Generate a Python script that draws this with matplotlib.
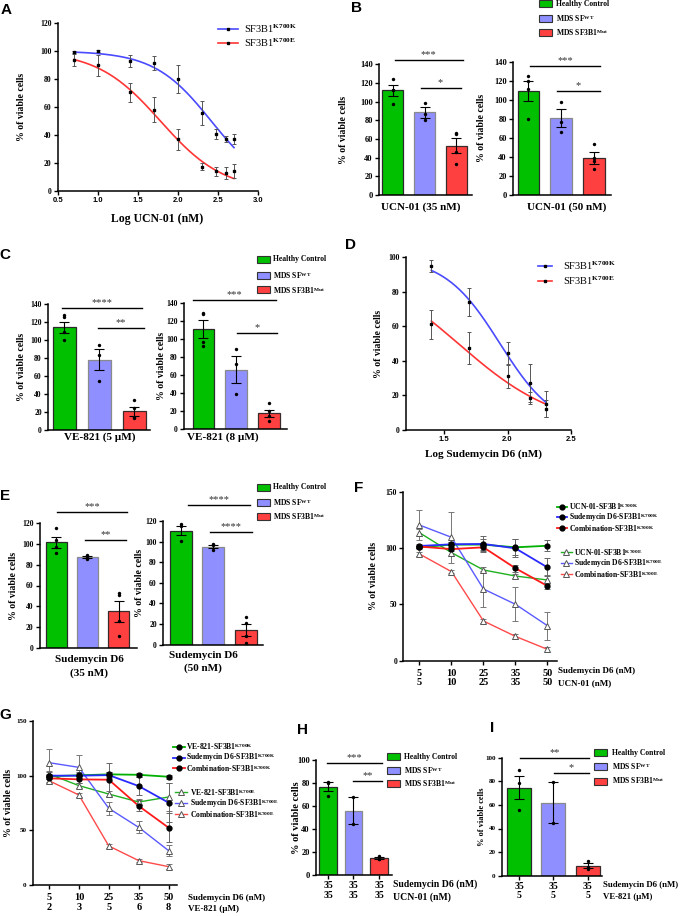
import numpy as np
import matplotlib
matplotlib.use("Agg")
import matplotlib.pyplot as plt
from matplotlib.lines import Line2D
from matplotlib.patches import Rectangle

plt.rcParams['font.family'] = ['Liberation Serif', 'DejaVu Serif']
plt.rcParams['font.weight'] = 'bold'
plt.rcParams['mathtext.fontset'] = 'custom'
plt.rcParams['mathtext.rm'] = 'Liberation Serif'
plt.rcParams['mathtext.bf'] = 'Liberation Serif:bold'
plt.rcParams['mathtext.it'] = 'Liberation Serif:italic'
plt.rcParams['axes.linewidth'] = 1.1

# ---------------- data ----------------
# A: UCN-01 dose response (log nM)
a_logdose = [0.7, 1.0, 1.4, 1.7, 2.0, 2.3, 2.48, 2.6, 2.7]
a_k700k = [99.5, 100, 93, 91.5, 80, 55.5, 40.5, 37, 37]
a_k700k_err = [0.8, 1, 4.5, 5, 10, 8.5, 3.5, 2, 3.5]
a_k700e = [93.5, 90, 70.5, 58, 37, 17.5, 14, 13, 14]
a_k700e_err = [4.5, 7.5, 7, 9, 7.5, 2.5, 3.5, 4.5, 5]
# fitted curves: top, bottom, logIC50, hill slope
a_fit_k700k = [100, 0, 2.415, 1.22]
a_fit_k700e = [100, 0, 1.78, 1.1]

# D: Sudemycin D6 dose response
d_logdose = [1.4, 1.7, 2.0, 2.18, 2.3]
d_k700k = [95, 73.8, 44.3, 27, 15]
d_k700k_err = [3.5, 8, 6.5, 11, 7.5]
d_k700e = [61, 47.4, 31, 18.7, 12.3]
d_k700e_err = [8.2, 9.3, 7, 3.5, 5]
d_fit_k700k = [100, 0, 1.94, 1.99]
d_fit_k700e = [100, 0, 1.611, 1.093]

# bar panels: Healthy Control, MDS SF-WT, MDS SF3B1-Mut
groups = ['Healthy Control', 'MDS SF$^{\\mathbf{WT}}$', 'MDS SF3B1$^{\\mathbf{Mut}}$']

b35_mean = [112, 88.5, 53]
b35_sem = [5.5, 5.5, 8]
b35_pts = [[124, 113, 112, 98], [99, 87, 80], [66, 65, 46, 33]]
b50_mean = [109, 81, 39]
b50_sem = [10.5, 9.5, 6]
b50_pts = [[125, 119.5, 111.5, 79.5], [98, 77, 66], [54, 39, 36, 27]]

c5_mean = [114, 78, 21]
c5_sem = [6.5, 11.5, 5]
c5_pts = [[128, 126, 109, 100], [95, 83, 55], [33.5, 24.5, 15, 13.5]]
c8_mean = [111.5, 66, 17.6]
c8_sem = [10, 15, 4]
c8_pts = [[129, 128, 97, 92], [89, 72.5, 39], [28.5, 19.5, 14, 8.5]]

e35_mean = [101.6, 87.8, 35]
e35_sem = [5, 1, 10]
e35_pts = [[115, 104, 97, 91], [89.5, 88.5, 87, 86], [53, 51, 25.5, 11]]
e50_mean = [110.6, 95.2, 14.3]
e50_sem = [4.5, 1.5, 6]
e50_pts = [[117.5, 115.5, 100.5], [97.5, 96.5, 92], [26.5, 21.5, 8, 1.5]]

h_mean = [76.8, 56, 14.7]
h_sem = [4, 12, 1]
h_pts = [[81.2, 80.3, 68.7], [68, 44], [16.8, 14, 13.6]]
i_mean = [74.6, 62, 8.5]
i_sem = [10, 17, 2.3]
i_pts = [[89.8, 78.2, 55.6], [79, 45], [12.7, 7.6, 5.9]]

# F: Sudemycin D6 + UCN-01 combination
f_sud_dose = ['5', '10', '25', '35', '50']
f_ucn_dose = ['5', '10', '25', '35', '50']
f_ucn_k = [100.6, 103, 103, 100.6, 102]
f_ucn_k_err = [1.5, 2, 5, 7, 5]
f_sud_k = [101.8, 103.3, 103.6, 99.7, 82.8]
f_sud_k_err = [1.5, 2, 7, 8, 8]
f_comb_k = [101.3, 99, 100.6, 82, 66.3]
f_comb_k_err = [1.5, 2, 3, 3, 3]
f_ucn_e = [113.6, 95.9, 80.5, 75.1, 71.6]
f_ucn_e_err = [3, 3, 3, 2, 4]
f_sud_e = [120.4, 109.5, 63.6, 50, 31]
f_sud_e_err = [13.5, 22.5, 16, 15, 12.5]
f_comb_e = [94.7, 79, 35.2, 21.5, 10]
f_comb_e_err = [2, 1.5, 1.5, 2.5, 2]

# G: Sudemycin D6 + VE-821 combination
g_sud_dose = ['5', '10', '25', '35', '50']
g_ve_dose = ['2', '3', '5', '6', '8']
g_ve_k = [99.5, 100.3, 101.2, 100.8, 99]
g_ve_k_err = [2, 2, 2, 2, 2]
g_sud_k = [100, 100, 100.5, 90.5, 75.3]
g_sud_k_err = [3, 3, 3, 8, 18]
g_comb_k = [97.6, 96.6, 96.3, 72.3, 52.4]
g_comb_k_err = [3, 3, 15, 5, 13]
g_ve_e = [101.5, 90.9, 83.2, 75.9, 80.5]
g_ve_e_err = [3, 2, 3, 3, 13]
g_sud_e = [111.9, 107.6, 70.1, 52.7, 31.4]
g_sud_e_err = [12.5, 11, 6, 5.5, 5]
g_comb_e = [95.4, 82.3, 35.7, 22.3, 16.8]
g_comb_e_err = [2, 1.5, 2, 1.5, 2.5]

# ---------------- styling ----------------
W, H = 685, 916
BAR_COLORS = ['#00c000', '#8f8fff', '#ff4040']
BAR_EDGES = ['#2a2a2a', '#8a8a8a', '#3a2a2a']
BLUE_LINE = '#4a4aff'
RED_LINE = '#ff3535'
LINE_COLORS = ['#00b000', '#2a2aff', '#ff1a1a']
LINE_COLORS_E = ['#20b020', '#5a5aff', '#ff4a4a']
K_SUP = '$^{\\mathbf{K700K}}$'
E_SUP = '$^{\\mathbf{K700E}}$'

fig = plt.figure(figsize=(W / 100, H / 100), dpi=100)


def fx(x):
    return x / W


def fy(y):
    return 1 - y / H


def add_ax(l, t, r, b):
    return fig.add_axes([l / W, 1 - b / H, (r - l) / W, (b - t) / H])


def style(ax, size=5.5):
    ax.spines[['top', 'right']].set_visible(False)
    ax.tick_params(axis='both', direction='out', length=3, width=1,
                   labelsize=size, pad=1.5, color='black')


def ylab(x, t, b, size=7):
    fig.text(fx(x), fy((t + b) / 2), '% of viable cells', rotation=90,
             ha='center', va='center', size=size)


def letter(x, y, s):
    fig.text(fx(x), fy(y), s, family='Liberation Sans', weight='bold',
             size=11, ha='center', va='center')


def four_pl(x, top, bottom, logic50, hill):
    return bottom + (top - bottom) / (1 + 10 ** ((x - logic50) * hill))


def dose_panel(rect, xlim, ylim, xticks, yticks, x, k, kerr, e, eerr, fitk, fite):
    ax = add_ax(*rect)
    style(ax)
    xs = np.linspace(min(x), max(x), 200)
    ax.plot(xs, four_pl(xs, *fitk), color=BLUE_LINE, lw=1.2, zorder=2)
    ax.plot(xs, four_pl(xs, *fite), color=RED_LINE, lw=1.2, zorder=2)
    for y, err in ((k, kerr), (e, eerr)):
        ax.errorbar(x, y, yerr=err, fmt='s', ms=2, color='black', ecolor='#555555',
                    elinewidth=0.7, capsize=1.5, capthick=0.7, zorder=3)
    ax.set_xlim(xlim)
    ax.set_ylim(ylim)
    ax.set_xticks(xticks)
    ax.set_xticklabels(['%.1f' % t for t in xticks], family='Liberation Sans', weight='bold')
    ax.set_yticks(yticks)
    return ax


def dose_legend(x0, x1, xt, ys, size=7.5):
    for y, c, lab in zip(ys, [BLUE_LINE, RED_LINE], ['SF3B1$^{\\mathrm{K700K}}$', 'SF3B1$^{\\mathrm{K700E}}$']):
        fig.add_artist(Line2D([fx(x0), fx(x1)], [fy(y), fy(y)], color=c, lw=1.2,
                              transform=fig.transFigure))
        fig.add_artist(Line2D([fx((x0 + x1) / 2)], [fy(y)], marker='s', ms=2, color='black',
                              transform=fig.transFigure))
        fig.text(fx(xt), fy(y), lab, size=size, weight='normal', va='center', ha='left')


def bar_panel(rect, xlim, ylim, yticks, means, sems, pts, width=0.66, tsize=5.5):
    ax = add_ax(*rect)
    style(ax, tsize)
    x = np.arange(len(means))
    ax.bar(x, means, width, color=BAR_COLORS, edgecolor=BAR_EDGES, linewidth=0.9, zorder=2)
    ax.errorbar(x, means, yerr=sems, fmt='none', ecolor='black', elinewidth=0.8,
                capsize=3.3, capthick=0.8, zorder=3)
    for i, p in enumerate(pts):
        ax.scatter(np.full(len(p), x[i]), p, s=6, color='black', zorder=4, linewidths=0)
    ax.set_xlim(xlim)
    ax.set_ylim(ylim)
    ax.set_yticks(yticks)
    ax.set_xticks([])
    return ax


def sig(ax, x0, x1, y, txt):
    ax.plot([x0, x1], [y, y], color='black', lw=1, clip_on=False, zorder=5)
    ax.annotate(txt, ((x0 + x1) / 2, y), xytext=(0, 2.0), textcoords='offset points',
                ha='center', va='baseline', size=7.5, weight='normal', color='#333333',
                annotation_clip=False)


def bar_legend(xb, xt, ys, size=5.5):
    for y, c, e, lab in zip(ys, BAR_COLORS, BAR_EDGES, groups):
        fig.add_artist(Rectangle((fx(xb), fy(y + 3.5)), 13 / W, 7 / H, facecolor=c,
                                 edgecolor='#333333', lw=0.8, transform=fig.transFigure))
        fig.text(fx(xt), fy(y), lab, size=size, va='center', ha='left')


def combo_panel(rect, xlim, series, ticklabels, size=5.5):
    ax = add_ax(*rect)
    style(ax, size)
    x = np.arange(5)
    for y, err, c, kind in series:
        if kind == 'k':
            ax.errorbar(x, y, yerr=err, fmt='none', ecolor='#666666', elinewidth=0.7,
                        capsize=2, capthick=0.7, zorder=2)
            ax.plot(x, y, color=c, lw=1.3, zorder=3)
            ax.plot(x, y, 'o', ms=3.5, color='black', zorder=4)
        else:
            ax.errorbar(x, y, yerr=err, fmt='none', ecolor='#777777', elinewidth=0.7,
                        capsize=2, capthick=0.7, zorder=2)
            ax.plot(x, y, color=c, lw=1.0, zorder=3)
            ax.plot(x, y, '^', ms=4, mfc='white', mec='#555555', mew=0.7, zorder=4)
    ax.set_xlim(xlim)
    ax.set_ylim(0, 150)
    ax.set_yticks([0, 50, 100, 150])
    ax.set_xticks(x)
    ax.set_xticklabels(ticklabels, size=7.5, linespacing=1.05)
    ax.tick_params(axis='x', pad=3)
    return ax


def combo_legend(x0, x1, xt, ys, colors, kind, labels, size=5.5):
    for y, c, lab in zip(ys, colors, labels):
        fig.add_artist(Line2D([fx(x0), fx(x1)], [fy(y), fy(y)], color=c,
                              lw=1.3 if kind == 'k' else 1.0, transform=fig.transFigure))
        if kind == 'k':
            fig.add_artist(Line2D([fx((x0 + x1) / 2)], [fy(y)], marker='o', ms=3.5,
                                  color='black', transform=fig.transFigure))
        else:
            fig.add_artist(Line2D([fx((x0 + x1) / 2)], [fy(y)], marker='^', ms=4, mfc='white',
                                  mec='#555555', mew=0.7, transform=fig.transFigure))
        fig.text(fx(xt), fy(y), lab, size=size, va='center', ha='left')


# ---------------- panel A ----------------
letter(6, 10, 'A')
dose_panel((58, 23, 258, 191), (0.5, 3.0), (0, 120), [0.5, 1.0, 1.5, 2.0, 2.5, 3.0],
           range(0, 121, 20), a_logdose, a_k700k, a_k700k_err, a_k700e, a_k700e_err,
           a_fit_k700k, a_fit_k700e)
dose_legend(218, 238, 244, [29, 43])
ylab(21.7, 23, 191)
fig.text(fx(157), fy(219), 'Log UCN-01 (nM)', size=8.5, ha='center', va='center')

# ---------------- panel B ----------------
letter(356, 8, 'B')
ax = bar_panel((379, 64.3, 472, 195), (-0.44, 2.49), (0, 140), range(0, 141, 20),
               b35_mean, b35_sem, b35_pts, tsize=6)
sig(ax, 0.06, 2.2, 144.6, '***')
sig(ax, 0.87, 2.13, 114.6, '*')
ylab(343, 64, 195)
fig.text(fx(421), fy(206.7), 'UCN-01 (35 nM)', size=8, ha='center', va='center')
ax = bar_panel((513, 61.7, 611, 195), (-0.47, 2.52), (0, 140), range(0, 141, 20),
               b50_mean, b50_sem, b50_pts, tsize=6)
sig(ax, 0.05, 2.18, 135.8, '***')
sig(ax, 0.86, 2.18, 109.6, '*')
ylab(481.7, 61.7, 195)
fig.text(fx(567), fy(206.7), 'UCN-01 (50 nM)', size=8, ha='center', va='center')
bar_legend(539, 556, [3.5, 18.3, 32.7])

# ---------------- panel C ----------------
letter(5, 255, 'C')
ax = bar_panel((48, 304, 150, 430), (-0.47, 2.45), (0, 140), range(0, 141, 20),
               c5_mean, c5_sem, c5_pts)
sig(ax, -0.06, 2.21, 135.9, '****')
sig(ax, 0.95, 2.29, 113.7, '**')
ylab(21.7, 304, 430)
fig.text(fx(100), fy(437.3), 'VE-821 (5 µM)', size=8, ha='center', va='center')
ax = bar_panel((184, 303, 287, 429), (-0.59, 2.54), (0, 140), range(0, 141, 20),
               c8_mean, c8_sem, c8_pts)
sig(ax, -0.31, 2.21, 143.7, '***')
sig(ax, 1.03, 2.23, 106.3, '*')
ylab(161.7, 303, 429)
fig.text(fx(223.3), fy(437.3), 'VE-821 (8 µM)', size=8, ha='center', va='center')
bar_legend(256.7, 273.3, [259.3, 275.7, 290])

# ---------------- panel D ----------------
letter(351, 245, 'D')
dose_panel((406, 257, 571, 430), (1.2, 2.5), (0, 100), [1.5, 2.0, 2.5],
           range(0, 101, 20), d_logdose, d_k700k, d_k700k_err, d_k700e, d_k700e_err,
           d_fit_k700k, d_fit_k700e)
dose_legend(538, 552, 563, [265.5, 281])
ylab(378.3, 257, 430)
fig.text(fx(483.3), fy(454), 'Log Sudemycin D6 (nM)', size=8, ha='center', va='center')

# ---------------- panel E ----------------
letter(5, 496, 'E')
ax = bar_panel((40, 523.3, 137, 647.7), (-0.52, 2.59), (0, 120), range(0, 121, 20),
               e35_mean, e35_sem, e35_pts, width=0.67)
sig(ax, 0.04, 2.26, 130.8, '***')
sig(ax, 0.92, 2.23, 104, '**')
ylab(13.3, 523.3, 647.7)
fig.text(fx(89), fy(659.3), 'Sudemycin D6', size=8, ha='center', va='center')
fig.text(fx(89), fy(672.7), '(35 nM)', size=8, ha='center', va='center')
ax = bar_panel((163, 521, 263, 644.7), (-0.54, 2.52), (0, 120), range(0, 121, 20),
               e50_mean, e50_sem, e50_pts, width=0.67)
sig(ax, 0.21, 2.12, 135.3, '****')
sig(ax, 0.9, 2.17, 109.7, '****')
ylab(140, 521, 644.7)
fig.text(fx(203.3), fy(655), 'Sudemycin D6', size=8, ha='center', va='center')
fig.text(fx(203.3), fy(668.3), '(50 nM)', size=8, ha='center', va='center')
bar_legend(256.7, 273, [487.3, 502.3, 516.7])

# ---------------- panel F ----------------
letter(359, 488, 'F')
combo_panel((403.3, 491.7, 556.7, 660.6), (-0.506, 4.29),
            [(f_ucn_e, f_ucn_e_err, LINE_COLORS_E[0], 'e'),
             (f_sud_e, f_sud_e_err, LINE_COLORS_E[1], 'e'),
             (f_comb_e, f_comb_e_err, LINE_COLORS_E[2], 'e'),
             (f_ucn_k, f_ucn_k_err, LINE_COLORS[0], 'k'),
             (f_sud_k, f_sud_k_err, LINE_COLORS[1], 'k'),
             (f_comb_k, f_comb_k_err, LINE_COLORS[2], 'k')],
            [a + '\n' + b for a, b in zip(f_sud_dose, f_ucn_dose)])
ylab(373.3, 491.7, 660.6)
combo_legend(556.7, 567.3, 569, [506.7, 517.3, 528.3], LINE_COLORS, 'k',
             ['UCN-01-SF3B1' + K_SUP, 'Sudemycin D6-SF3B1' + K_SUP, 'Combination-SF3B1' + K_SUP])
combo_legend(561, 571.7, 573.5, [552, 563, 574], LINE_COLORS_E, 'e',
             ['UCN-01-SF3B1' + E_SUP, 'Sudemycin D6-SF3B1' + E_SUP, 'Combination-SF3B1' + E_SUP])
fig.text(fx(558.5), fy(670.7), 'Sudemycin D6 (nM)', size=6.5, ha='left', va='center')
fig.text(fx(558.5), fy(683.5), 'UCN-01 (nM)', size=6.5, ha='left', va='center')

# ---------------- panel G ----------------
letter(5, 715, 'G')
combo_panel((32.7, 721, 176.7, 885), (-0.545, 4.27),
            [(g_ve_e, g_ve_e_err, LINE_COLORS_E[0], 'e'),
             (g_sud_e, g_sud_e_err, LINE_COLORS_E[1], 'e'),
             (g_comb_e, g_comb_e_err, LINE_COLORS_E[2], 'e'),
             (g_ve_k, g_ve_k_err, LINE_COLORS[0], 'k'),
             (g_sud_k, g_sud_k_err, LINE_COLORS[1], 'k'),
             (g_comb_k, g_comb_k_err, LINE_COLORS[2], 'k')],
            [a + '\n' + b for a, b in zip(g_sud_dose, g_ve_dose)], size=5)
ylab(8.3, 721, 885)
combo_legend(173.3, 185, 186.5, [746.7, 757.7, 768.3], LINE_COLORS, 'k',
             ['VE-821-SF3B1' + K_SUP, 'Sudemycin D6-SF3B1' + K_SUP, 'Combination-SF3B1' + K_SUP])
combo_legend(175, 186.7, 190, [792, 803, 814], LINE_COLORS_E, 'e',
             ['VE-821-SF3B1' + E_SUP, 'Sudemycin D6-SF3B1' + E_SUP, 'Combination-SF3B1' + E_SUP])
fig.text(fx(188.3), fy(897.7), 'Sudemycin D6 (nM)', size=6.5, ha='left', va='center')
fig.text(fx(188.3), fy(909.3), 'VE-821 (µM)', size=6.5, ha='left', va='center')

# ---------------- panel H ----------------
letter(302, 730, 'H')
ax = bar_panel((316, 760, 392, 875), (-0.47, 2.51), (0, 100), range(0, 101, 20),
               h_mean, h_sem, h_pts, width=0.68, tsize=6)
ax.set_xticks(range(3))
ax.set_xticklabels(['35\n35'] * 3, size=7, linespacing=1.05)
sig(ax, -0.05, 2.11, 97.7, '***')
sig(ax, 0.97, 2.11, 82, '**')
ylab(296.7, 760, 875, size=7.5)
fig.text(fx(393.3), fy(884), 'Sudemycin D6 (nM)', size=7, ha='left', va='center')
fig.text(fx(393.3), fy(897), 'UCN-01 (nM)', size=7, ha='left', va='center')
bar_legend(387.3, 404, [756.7, 770, 783.3])

# ---------------- panel I ----------------
letter(492, 728, 'I')
ax = bar_panel((502, 757.7, 602, 875.7), (-0.5, 2.42), (0, 100), range(0, 101, 20),
               i_mean, i_sem, i_pts, width=0.7, tsize=5)
ax.set_xticks(range(3))
ax.set_xticklabels(['35\n5'] * 3, size=7, linespacing=1.05)
sig(ax, 0.04, 2.03, 99.5, '**')
sig(ax, 1.01, 2.03, 86.8, '*')
ylab(481.7, 757.7, 875.7, size=6)
fig.text(fx(603.3), fy(884.7), 'Sudemycin D6 (nM)', size=6.3, ha='left', va='center')
fig.text(fx(603.3), fy(896.7), 'VE-821 (µM)', size=6.3, ha='left', va='center')
bar_legend(594, 611.7, [752.7, 766.7, 781])

fig.savefig('out.png', dpi=100)
